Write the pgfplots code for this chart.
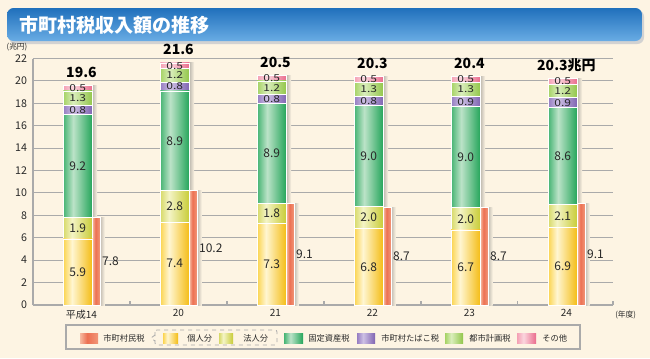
\documentclass[border=0pt]{standalone}
\usepackage{fontspec}
\setmainfont{Noto Sans CJK JP}
\usepackage{pgfplots}
\pgfplotsset{compat=1.18}
\usepackage{pgfplotstable}

\definecolor{bg}{RGB}{253,244,227}
\definecolor{gridc}{RGB}{170,170,170}
\definecolor{txt}{RGB}{40,40,40}
\definecolor{bT}{RGB}{32,112,188}
\definecolor{bB}{RGB}{105,172,228}
% bar colours
\definecolor{ky1}{RGB}{251,212,80}\definecolor{ky2}{RGB}{255,246,210}\definecolor{ky3}{RGB}{244,188,20}
\definecolor{hj1}{RGB}{215,218,105}\definecolor{hj2}{RGB}{244,244,198}\definecolor{hj3}{RGB}{200,204,55}
\definecolor{kt1}{RGB}{70,180,115}\definecolor{kt2}{RGB}{188,227,200}\definecolor{kt3}{RGB}{36,165,90}
\definecolor{tb1}{RGB}{150,125,194}\definecolor{tb2}{RGB}{205,192,228}\definecolor{tb3}{RGB}{128,100,178}
\definecolor{ts1}{RGB}{165,210,100}\definecolor{ts2}{RGB}{218,238,188}\definecolor{ts3}{RGB}{146,198,74}
\definecolor{so1}{RGB}{244,160,180}\definecolor{so2}{RGB}{251,214,222}\definecolor{so3}{RGB}{234,108,140}
\definecolor{mz1}{RGB}{246,185,160}\definecolor{mz2}{RGB}{236,112,82}\definecolor{mz3}{RGB}{242,150,120}
\definecolor{sh1}{RGB}{190,185,175}

\pgfdeclarehorizontalshading{kojinS}{100bp}{color(0bp)=(ky1); color(25bp)=(ky1); color(40bp)=(ky2); color(75bp)=(ky3); color(100bp)=(ky3)}
\pgfdeclarehorizontalshading{hojinS}{100bp}{color(0bp)=(hj1); color(25bp)=(hj1); color(40bp)=(hj2); color(75bp)=(hj3); color(100bp)=(hj3)}
\pgfdeclarehorizontalshading{koteiS}{100bp}{color(0bp)=(kt1); color(25bp)=(kt1); color(42bp)=(kt2); color(75bp)=(kt3); color(100bp)=(kt3)}
\pgfdeclarehorizontalshading{tabakoS}{100bp}{color(0bp)=(tb1); color(25bp)=(tb1); color(42bp)=(tb2); color(75bp)=(tb3); color(100bp)=(tb3)}
\pgfdeclarehorizontalshading{toshiS}{100bp}{color(0bp)=(ts1); color(25bp)=(ts1); color(42bp)=(ts2); color(75bp)=(ts3); color(100bp)=(ts3)}
\pgfdeclarehorizontalshading{sonotaS}{100bp}{color(0bp)=(so1); color(25bp)=(so1); color(42bp)=(so2); color(75bp)=(so3); color(100bp)=(so3)}
\pgfdeclarehorizontalshading{minzeiS}{100bp}{color(0bp)=(mz1); color(25bp)=(mz1); color(45bp)=(mz2); color(75bp)=(mz3); color(100bp)=(mz3)}
\pgfdeclarehorizontalshading{shadowS}{100bp}{color(0bp)=(sh1); color(25bp)=(sh1); color(75bp)=(bg); color(100bp)=(bg)}

\pgfplotsset{/pgf/number format/assume math mode=true}

\pgfplotstableread{
x kojin hojin kotei tabako toshi sonota minzei
0 5.9 1.9 9.2 0.8 1.3 0.5 7.8
1 7.4 2.8 8.9 0.8 1.2 0.5 10.2
2 7.3 1.8 8.9 0.8 1.2 0.5 9.1
3 6.8 2.0 9.0 0.8 1.3 0.5 8.7
4 6.7 2.0 9.0 0.9 1.3 0.5 8.7
5 6.9 2.1 8.6 0.9 1.2 0.5 9.1
}\data
% cumulative tops of the stacked segments
\pgfplotstablecreatecol[expr={\thisrow{kojin}+\thisrow{hojin}}]{c2}\data
\pgfplotstablecreatecol[expr={\thisrow{c2}+\thisrow{kotei}}]{c3}\data
\pgfplotstablecreatecol[expr={\thisrow{c3}+\thisrow{tabako}}]{c4}\data
\pgfplotstablecreatecol[expr={\thisrow{c4}+\thisrow{toshi}}]{c5}\data
\pgfplotstablecreatecol[expr={\thisrow{c5}+\thisrow{sonota}}]{c6}\data

\pgfplotstableread{
x y lab
0 19.6 19.6
1 21.6 21.6
2 20.5 20.5
3 20.4 20.3
4 20.4 20.4
5 20.2 20.3兆円
}\totals

\pgfplotsset{
  base/.style={
    scale only axis, width=435pt, height=184.875pt,
    xmin=-0.5, xmax=5.48, ymin=0, ymax=22,
    at={(24.75pt,-228.75pt)}, anchor=south west,
  },
  seg/.style={ybar, bar width=0.3, bar shift=-0.038, draw=white, line width=0.5pt},
}

\begin{document}
\begin{tikzpicture}
\begin{scope}[x=0.75pt,y=-0.75pt]
  \fill[bg] (0,0) rectangle (650,358);
  \fill[gray!35, rounded corners=5pt] (9,10) rectangle (644,44);
  \shade[top color=bT, bottom color=bB, rounded corners=5pt] (7,8) rectangle (642,41);
  \node[anchor=west, text=white, font=\fontsize{14.3}{16}\selectfont\bfseries, inner sep=0pt] at (19,25) {市町村税収入額の推移};
  \node[font=\fontsize{5.8}{6}\selectfont, text=txt] at (17,47) {(兆円)};
  \node[font=\fontsize{5.8}{6}\selectfont, text=txt, anchor=west, inner sep=0pt] at (615,315) {(年度)};
\end{scope}

% axis A: grid and ticks
\begin{axis}[base,
  axis x line*=bottom, axis y line*=left,
  axis line style={color=gridc, line width=0.8pt},
  ymajorgrids, grid style={color=gridc, line width=0.8pt},
  ytick={0,2,...,22}, xtick={0,...,5},
  xticklabels={平成14,20,21,22,23,24},
  major tick length=0pt,
  extra x ticks={0.5,1.5,2.5,3.5,4.5,5.48}, extra x tick labels={},
  extra x tick style={major tick length=3pt, tick align=inside, major tick style={color=gridc, line width=0.8pt}, grid=none},
  yticklabel style={font=\fontsize{8}{9}\selectfont, text=txt, xshift=-1pt},
  xticklabel style={font=\fontsize{7.5}{9}\selectfont, text=txt},
]
\addplot[draw=none, mark=none] coordinates {(0,0)};
\end{axis}

% one hidden axis per year, so that every bar gets its own shading
\pgfplotsinvokeforeach{0,...,5}{
\begin{axis}[base, hide axis, x filter/.expression={abs(x-#1)<0.1 ? x : nan}]
\addplot[ybar, bar width=0.05, bar shift=0.137, draw=none, shading=shadowS] table[x=x, y=c6]{\data};
\addplot[ybar, bar width=0.05, bar shift=0.215, draw=none, shading=shadowS] table[x=x, y=minzei]{\data};
\addplot[ybar, bar width=0.077, bar shift=0.152, draw=white, line width=0.4pt, shading=minzeiS] table[x=x, y=minzei]{\data};
\addplot[seg, shading=sonotaS] table[x=x, y=c6]{\data};
\addplot[seg, shading=toshiS] table[x=x, y=c5]{\data};
\addplot[seg, shading=tabakoS] table[x=x, y=c4]{\data};
\addplot[seg, shading=koteiS] table[x=x, y=c3]{\data};
\addplot[seg, shading=hojinS] table[x=x, y=c2]{\data};
\addplot[seg, shading=kojinS] table[x=x, y=kojin]{\data};
\end{axis}
}

% axis C: labels
\begin{axis}[base, hide axis, clip=false,
  nodes near coords={\pgfmathprintnumber[fixed,fixed zerofill,precision=1]{\pgfplotspointmeta}},
  point meta=explicit,
  every node near coord/.append style={font=\fontsize{9}{10}\selectfont, text=txt, anchor=center, inner sep=0pt},
]
\addplot[draw=none, mark=none] table[x expr=\thisrow{x}-0.038, y expr=\thisrow{kojin}/2, meta=kojin]{\data};
\addplot[draw=none, mark=none] table[x expr=\thisrow{x}-0.038, y expr=\thisrow{kojin}+\thisrow{hojin}/2, meta=hojin]{\data};
\addplot[draw=none, mark=none] table[x expr=\thisrow{x}-0.038, y expr=\thisrow{c2}+\thisrow{kotei}/2, meta=kotei]{\data};
\addplot[draw=none, mark=none, every node near coord/.append style={yscale=0.8}] table[x expr=\thisrow{x}-0.038, y expr=\thisrow{c3}+\thisrow{tabako}/2, meta=tabako]{\data};
\addplot[draw=none, mark=none, every node near coord/.append style={yscale=0.8}] table[x expr=\thisrow{x}-0.038, y expr=\thisrow{c4}+\thisrow{toshi}/2, meta=toshi]{\data};
\addplot[draw=none, mark=none, every node near coord/.append style={yscale=0.8}] table[x expr=\thisrow{x}-0.038, y expr=\thisrow{c5}+\thisrow{sonota}/2, meta=sonota]{\data};
\addplot[draw=none, mark=none, every node near coord/.append style={anchor=west}] table[x expr=\thisrow{x}+0.21, y expr=\thisrow{minzei}/2, meta=minzei]{\data};
\addplot[draw=none, mark=none, point meta=explicit symbolic, nodes near coords={\pgfplotspointmeta},
  every node near coord/.append style={font=\fontsize{10.5}{12}\selectfont\bfseries, anchor=base, yshift=6pt, text=black}]
  table[x=x, y=y, meta=lab]{\totals};
\end{axis}

% legend
\begin{scope}[x=0.75pt,y=-0.75pt, every node/.style={font=\fontsize{6.2}{7}\selectfont, text=txt, anchor=west, inner sep=0pt}]
  \draw[gridc, line width=0.8pt] (66,325) rectangle (580,349);
  \draw[gridc, dashed, line width=0.6pt, rounded corners=1.5pt] (155,330) rectangle (277,345);
  \draw[gridc, dashed, line width=0.6pt] (155,335) -- (151,338) -- (155,341);
  \shade[shading=minzeiS] (80,333) rectangle (98,343);  \node at (103,338) {市町村民税};
  \shade[shading=kojinS] (163,333) rectangle (178,343); \node at (187,338) {個人分};
  \shade[shading=hojinS] (219,333) rectangle (233,343); \node at (243,338) {法人分};
  \shade[shading=koteiS] (284,333) rectangle (303,343); \node at (308,338) {固定資産税};
  \shade[shading=tabakoS] (357,333) rectangle (375,343); \node at (381,338) {市町村たばこ税};
  \shade[shading=toshiS] (445,333) rectangle (463,343); \node at (469,338) {都市計画税};
  \shade[shading=sonotaS] (517,333) rectangle (536,343); \node at (542,338) {その他};
\end{scope}
\pgfresetboundingbox
\path (0,0) rectangle (487.5pt,-268.5pt);
\end{tikzpicture}
\end{document}
